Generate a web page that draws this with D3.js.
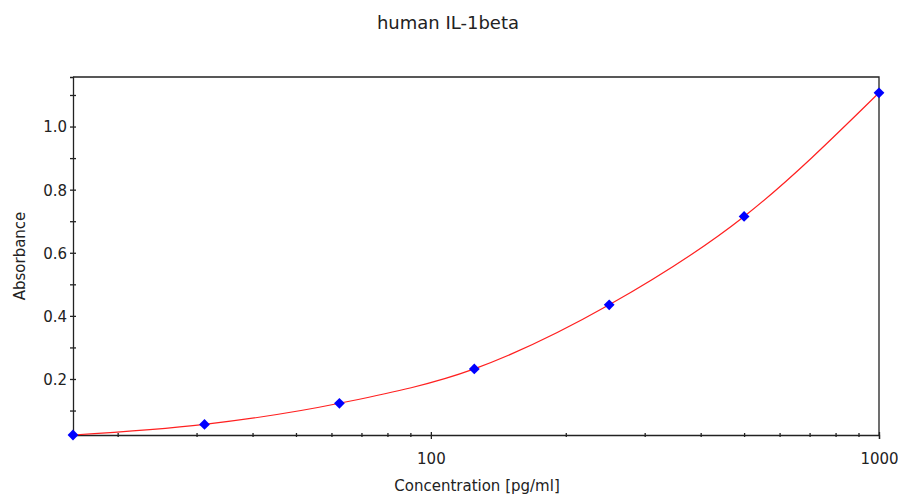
<!DOCTYPE html>
<html>
<head>
<meta charset="utf-8">
<script src="https://cdn.jsdelivr.net/npm/d3@7"></script>
<style>
  body { margin: 0; background: #fff; }
  text { font-family: "DejaVu Sans", sans-serif; fill: #222; }
</style>
</head>
<body>
<svg width="898" height="495"></svg>
<script>
const svg = d3.select('svg');

const width = +svg.attr('width');
const height = +svg.attr('height');

// standards: concentration (pg/ml) and absorbance
const concentration = [15.625, 31.25, 62.5, 125, 250, 500, 1000];
const absorbance = [0.0225, 0.056, 0.123, 0.232, 0.435, 0.715, 1.107];

const yMajor = [0.2, 0.4, 0.6, 0.8, 1.0];
const yMinor = [0.1, 0.3, 0.5, 0.7, 0.9, 1.1];
const xMajor = [100, 1000];
const xMinor = [20, 30, 40, 50, 60, 70, 80, 90, 200, 300, 400, 500, 600, 700, 800, 900];

const margin = { top: 77, right: 19, bottom: 60, left: 73 };
const innerW = width - margin.left - margin.right;
const innerH = height - margin.top - margin.bottom;

const x = d3.scaleLog().domain([15.9, 1000]).range([0, innerW]).clamp(true);
const y = d3.scaleLinear().domain([0.0225, 1.157]).range([innerH, 0]);

const g = svg.append('g').attr('transform', `translate(${margin.left},${margin.top})`);

// frame (top + right)
g.append('path')
  .attr('d', `M0,0H${innerW}V${innerH}`)
  .attr('fill', 'none')
  .attr('stroke', '#222')
  .attr('stroke-width', 1.3);

// y axis
const yAxis = g.append('g')
  .call(d3.axisLeft(y).tickValues(yMajor).tickSize(3).tickFormat(d3.format('.1f')));
yAxis.selectAll('.tick line').attr('x1', 3);
g.append('g')
  .call(d3.axisLeft(y).tickValues(yMinor).tickSize(3).tickFormat(''))
  .call(a => a.select('.domain').remove())
  .selectAll('.tick line').attr('x1', 3);

// x axis
const xAxis = g.append('g')
  .attr('transform', `translate(0,${innerH})`)
  .call(d3.axisBottom(x).tickValues(xMajor).tickSize(4).tickFormat(d3.format('d')));
xAxis.selectAll('.tick line').attr('y1', -3);
xAxis.selectAll('.tick text').attr('y', 18);
g.append('g')
  .attr('transform', `translate(0,${innerH})`)
  .call(d3.axisBottom(x).tickValues(xMinor).tickSize(2).tickFormat(''))
  .call(a => a.select('.domain').remove())
  .selectAll('.tick line').attr('y1', -2);

svg.selectAll('.domain').attr('stroke', '#222').attr('stroke-width', 1.3);
svg.selectAll('.tick line').attr('stroke', '#222').attr('stroke-width', 1.3);
svg.selectAll('.tick text').style('font-size', '15px').attr('fill', '#222');
yAxis.selectAll('.tick text').attr('x', -6).attr('dy', '0.36em');

// curve
const pts = concentration.map((c, i) => [x(c), y(absorbance[i])]);
g.append('path')
  .attr('d', d3.line().curve(d3.curveMonotoneX)(pts))
  .attr('fill', 'none')
  .attr('stroke', '#ff2020')
  .attr('stroke-width', 1.2);

// points
g.selectAll('.pt').data(pts)
  .enter().append('path')
  .attr('class', 'pt')
  .attr('d', d3.symbol(d3.symbolSquare, 58))
  .attr('transform', d => `translate(${d[0]},${d[1]}) rotate(45)`)
  .attr('fill', '#0000ff');

// labels
svg.append('text')
  .attr('x', 448).attr('y', 29)
  .attr('text-anchor', 'middle')
  .style('font-size', '18px')
  .text('human IL-1beta');

svg.append('text')
  .attr('x', 477).attr('y', 491)
  .attr('text-anchor', 'middle')
  .style('font-size', '15px')
  .text('Concentration [pg/ml]');

svg.append('text')
  .attr('transform', 'translate(25,256) rotate(-90)')
  .attr('text-anchor', 'middle')
  .style('font-size', '15px')
  .text('Absorbance');
</script>
</body>
</html>
